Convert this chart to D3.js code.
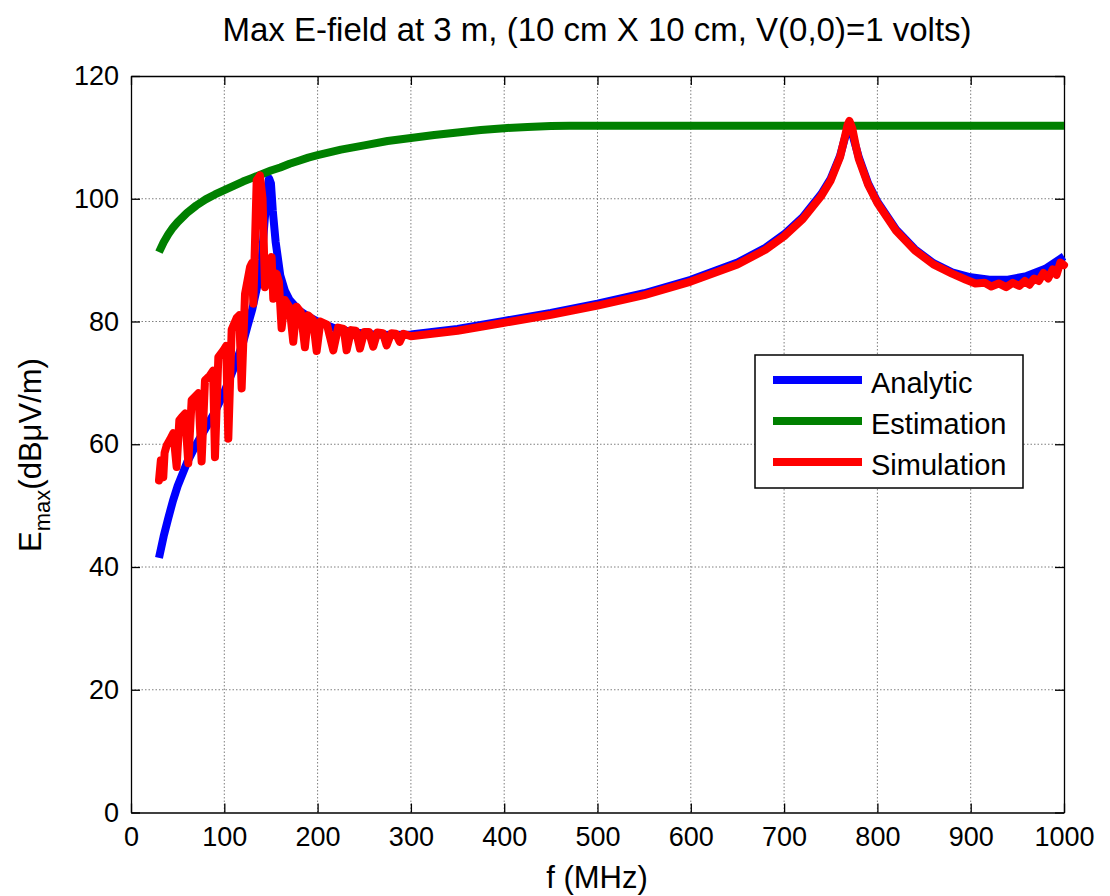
<!DOCTYPE html>
<html>
<head>
<meta charset="utf-8">
<script src="https://cdn.jsdelivr.net/npm/d3@7"></script>
<style>
  html, body { margin: 0; padding: 0; background: #fff; }
  svg { display: block; font-family: "Liberation Sans", Arial, sans-serif; }
</style>
</head>
<body>
<svg id="chart" width="1110" height="896"></svg>
<script>
// ---------------- data ----------------
const title = "Max E-field at 3 m, (10 cm X 10 cm, V(0,0)=1 volts)";
const xLabel = "f (MHz)";
const xTicks = [0, 100, 200, 300, 400, 500, 600, 700, 800, 900, 1000];
const yTicks = [0, 20, 40, 60, 80, 100, 120];
const seriesNames = ["Analytic", "Estimation", "Simulation"];
const seriesColors = ["#0000ff", "#008000", "#ff0000"];

const freqAnalytic = [30, 35, 40, 45, 50, 60, 70, 80, 90, 100, 110, 120, 125, 130, 135, 140, 143, 146, 148, 150, 152, 155, 160, 165, 170, 180, 190, 200, 220, 240, 260, 280, 300, 350, 400, 450, 500, 550, 600, 650, 680, 700, 720, 740, 750, 760, 765, 770, 775, 780, 790, 800, 820, 840, 860, 880, 900, 920, 940, 960, 980, 1000];
const valAnalytic = [41.5, 45, 48, 50.8, 53.2, 57, 60, 62.6, 65.3, 68.5, 72.3, 76.5, 79.3, 82, 85.5, 90, 96, 101.5, 103.3, 102.5, 98, 93, 87.5, 85, 83.5, 81.8, 80.8, 80, 78.8, 78.2, 77.9, 77.8, 77.9, 78.8, 80.1, 81.4, 82.9, 84.6, 86.8, 89.6, 92, 94.2, 97, 100.8, 103.3, 107, 109.8, 112.3, 109.5, 106.8, 102.5, 99.5, 95, 91.8, 89.5, 88, 87.2, 86.8, 86.8, 87.4, 88.6, 90.6];

const freqEstimation = [30, 35, 40, 45, 50, 60, 70, 80, 90, 100, 110, 120, 130, 140, 150, 160, 170, 180, 190, 200, 225, 250, 275, 300, 325, 350, 375, 400, 425, 450, 470, 500, 600, 700, 800, 900, 1000];
const valEstimation = [91.3, 92.9, 94.2, 95.3, 96.2, 97.7, 98.9, 99.9, 100.7, 101.4, 102.1, 102.8, 103.4, 104.0, 104.6, 105.1, 105.7, 106.2, 106.7, 107.1, 108.0, 108.7, 109.4, 109.9, 110.4, 110.8, 111.2, 111.5, 111.7, 111.85, 111.9, 111.9, 111.9, 111.9, 111.9, 111.9, 111.9];

const freqSimulation = [30, 32, 34.6, 36, 38.2, 42, 45.4, 48.9, 51.8, 55, 57.9, 61.4, 65, 69, 72.2, 75.7, 79.3, 84.6, 88, 90, 93.6, 99, 102, 104.3, 107.9, 113.3, 116, 118.6, 122.2, 127.6, 129.5, 131.1, 134.7, 138.2, 141, 143.6, 147, 150.7, 152.5, 156, 158.5, 161.4, 165, 170, 173.9, 177.5, 182, 186.4, 190, 195, 199, 203, 210, 216.8, 222, 228, 231.1, 236, 241, 245.4, 250, 255, 259.6, 264, 270, 274, 279, 284, 288, 292, 300, 350, 400, 450, 500, 550, 600, 650, 680, 700, 720, 740, 750, 760, 765, 768, 770, 773, 777, 780, 790, 800, 820, 840, 860, 880, 895, 905, 915, 922, 930, 938, 945, 952, 958, 963, 968, 973, 978, 983, 988, 992, 996, 1000];
const valSimulation = [54.1, 57.4, 54.6, 58.6, 59.8, 60.8, 61.8, 56.3, 63.9, 64.5, 65.0, 56.9, 67.2, 67.8, 68.3, 57.2, 70.4, 71.2, 72, 57.9, 74.2, 75.3, 76, 60.9, 78.7, 80.6, 81, 69.1, 84.5, 88.9, 89.5, 82.9, 103.0, 103.8, 100, 85.6, 88, 90.5, 83.7, 87.8, 86.5, 78.9, 83.5, 82.3, 76.7, 82.4, 81.5, 75.8, 81, 80.3, 75.2, 80, 79.5, 75.3, 79, 78.8, 75.3, 78.6, 78.5, 75.6, 78.3, 78.3, 75.9, 78.2, 78.1, 76.1, 78.1, 78, 76.7, 78, 77.6, 78.5, 79.8, 81.1, 82.6, 84.3, 86.5, 89.3, 91.7, 93.9, 96.7, 100.5, 103, 106.8, 110, 112, 112.7, 111.5, 108.5, 106.5, 102.3, 99.3, 94.8, 91.6, 89.3, 87.8, 86.8, 86.2, 86.3, 85.7, 86.2, 85.6, 86.3, 85.8, 86.6, 86, 87, 86.6, 87.9, 87, 88.5, 87.6, 89.6, 89.2];

// ---------------- layout ----------------
const svg = d3.select("#chart");
const L = 131, R = 1064, T = 76, B = 812.5;
const x = d3.scaleLinear().domain([0, 1000]).range([L, R]);
const y = d3.scaleLinear().domain([0, 120]).range([B, T]);
const tickFont = 27;

// grid
const grid = svg.append("g").attr("stroke", "#7f7f7f").attr("stroke-width", 1).attr("stroke-dasharray", "1.5,2");
grid.selectAll("line.vx").data(xTicks.slice(1, -1)).join("line")
  .attr("x1", d => x(d)).attr("x2", d => x(d)).attr("y1", T).attr("y2", B);
grid.selectAll("line.hy").data(yTicks.slice(1, -1)).join("line")
  .attr("y1", d => y(d)).attr("y2", d => y(d)).attr("x1", L).attr("x2", R);

// axes
const fmt = d3.format("d");
const ax = svg.append("g").attr("transform", `translate(0,${B})`)
  .call(d3.axisBottom(x).tickValues(xTicks).tickFormat(fmt).tickSizeInner(-9).tickSizeOuter(0).tickPadding(14));
const ay = svg.append("g").attr("transform", `translate(${L},0)`)
  .call(d3.axisLeft(y).tickValues(yTicks).tickFormat(fmt).tickSizeInner(-9).tickSizeOuter(0).tickPadding(12));
const axT = svg.append("g").attr("transform", `translate(0,${T})`)
  .call(d3.axisTop(x).tickValues(xTicks).tickSizeInner(-9).tickSizeOuter(0).tickFormat(""));
const ayR = svg.append("g").attr("transform", `translate(${R},0)`)
  .call(d3.axisRight(y).tickValues(yTicks).tickSizeInner(-9).tickSizeOuter(0).tickFormat(""));
[ax, ay, axT, ayR].forEach(g => {
  g.select(".domain").attr("stroke", "#000").attr("stroke-width", 1.3);
  g.selectAll(".tick line").attr("stroke", "#000").attr("stroke-width", 1.3);
  g.selectAll(".tick text").attr("font-size", tickFont).attr("fill", "#000")
    .attr("font-family", "'Liberation Sans', Arial, sans-serif");
});

// series
const line = d3.line().x(d => x(d[0])).y(d => y(d[1]));
const dataA = freqAnalytic.map((f, i) => [f, valAnalytic[i]]);
const dataE = freqEstimation.map((f, i) => [f, valEstimation[i]]);
const dataS = freqSimulation.map((f, i) => [f, valSimulation[i]]);
svg.append("path").datum(dataA).attr("d", line).attr("fill", "none")
  .attr("stroke", seriesColors[0]).attr("stroke-width", 8).attr("stroke-linejoin", "round");
svg.append("path").datum(dataE).attr("d", line).attr("fill", "none")
  .attr("stroke", seriesColors[1]).attr("stroke-width", 8).attr("stroke-linejoin", "round");
svg.append("path").datum(dataS).attr("d", line).attr("fill", "none")
  .attr("stroke", seriesColors[2]).attr("stroke-width", 8).attr("stroke-linejoin", "round").attr("stroke-linecap", "round");

// legend
const lg = svg.append("g");
lg.append("rect").attr("x", 755).attr("y", 355).attr("width", 268).attr("height", 133)
  .attr("fill", "#fff").attr("stroke", "#000").attr("stroke-width", 1.5);
seriesNames.forEach((name, i) => {
  const yy = 380 + i * 41;
  lg.append("line").attr("x1", 773).attr("x2", 862).attr("y1", yy).attr("y2", yy)
    .attr("stroke", seriesColors[i]).attr("stroke-width", 8);
  lg.append("text").attr("x", 871).attr("y", yy + 13).attr("font-size", 29).text(name);
});

// title & labels
svg.append("text").attr("x", 597).attr("y", 41).attr("text-anchor", "middle")
  .attr("font-size", 33).text(title);
svg.append("text").attr("x", 597).attr("y", 888).attr("text-anchor", "middle")
  .attr("font-size", 31).text(xLabel);
const yl = svg.append("text").attr("transform", "translate(41,455) rotate(-90)")
  .attr("text-anchor", "middle").attr("font-size", 31);
yl.append("tspan").text("E");
yl.append("tspan").attr("font-size", 22).attr("dy", 9).text("max");
yl.append("tspan").attr("dy", -9).text("(dBμV/m)");
</script>
</body>
</html>
